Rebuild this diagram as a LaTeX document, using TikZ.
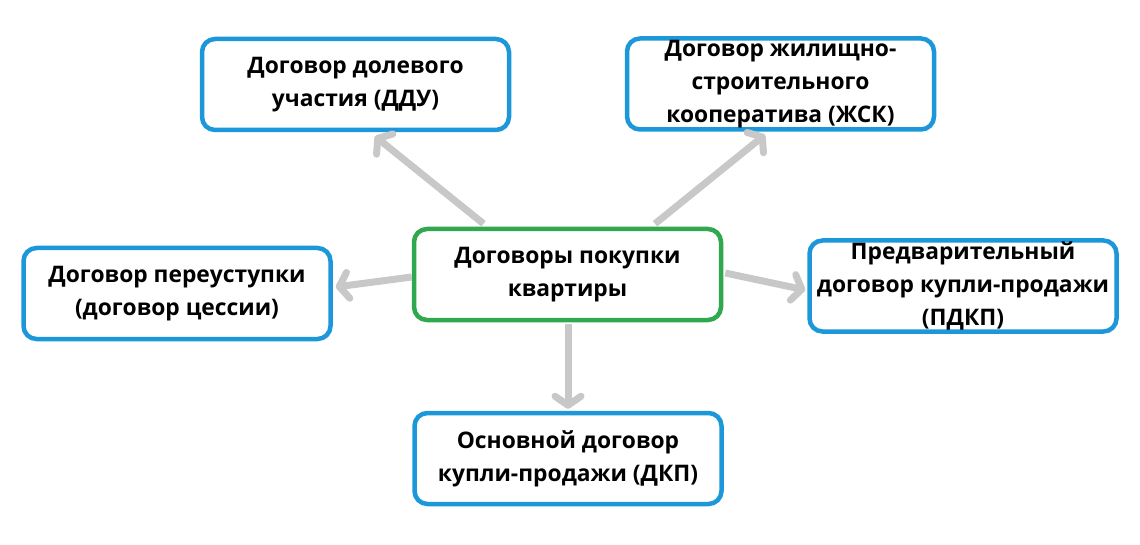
\documentclass[tikz,border=0pt]{standalone}
\usepackage{fontspec}
\setmainfont{Open Sans}
\usetikzlibrary{arrows.meta,calc}
\definecolor{boxblue}{RGB}{28,152,218}
\definecolor{boxgreen}{RGB}{48,168,78}
\definecolor{arrgray}{RGB}{200,200,200}
\tikzset{
  box/.style={draw=boxblue, line width=4.5pt, rounded corners=13pt, fill=white,
    minimum width=307pt, minimum height=91pt, align=center, inner sep=0pt,
    font=\fontsize{22.8}{33}\selectfont\bfseries},
  mainbox/.style={box, draw=boxgreen},
  conn/.style={draw=arrgray, line width=7pt,
    -{Straight Barb[length=9pt,width=26pt,line cap=round,line join=round]}},
}
\begin{document}
\begin{tikzpicture}[x=1pt,y=-1pt]
\useasboundingbox (0,0) rectangle (1140,545);
\node[box] (ddu) at (355.5,84.5) {Договор долевого\\участия (ДДУ)};
\node[box] (zhsk) at (780.5,84) {Договор жилищно-\\строительного\\кооператива (ЖСК)};
\node[mainbox] (main) at (567.5,274.5) {Договоры покупки\\квартиры};
\node[box] (cess) at (177,293.5) {Договор переуступки\\(договор цессии)};
\node[box] (pdkp) at (963,286) {Предварительный\\договор купли-продажи\\(ПДКП)};
\node[box] (dkp) at (568,458.5) {Основной договор\\купли-продажи (ДКП)};
\draw[conn] ($(main.north)+(-84,-3)$) -- ($(ddu.south)+(19.5,4)$);
\draw[conn] ($(main.north)+(87.5,-3)$) -- ($(zhsk.south)+(-15.5,3)$);
\draw[conn] ($(main.west)+(0,2.5)$) -- ($(cess.east)+(3,-6.5)$);
\draw[conn] ($(main.east)+(2,-1.5)$) -- ($(pdkp.west)+(-2,4)$);
\draw[conn] ($(main.south)+(0.5,2)$) -- ($(dkp.north)+(0,-2)$);
\end{tikzpicture}
\end{document}
